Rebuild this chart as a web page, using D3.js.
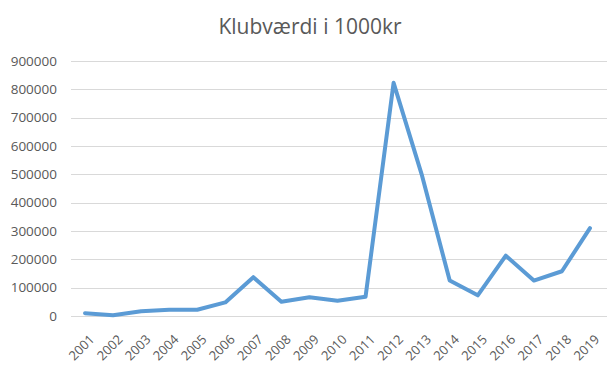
<!DOCTYPE html>
<html>
<head>
<meta charset="utf-8">
<script src="https://cdn.jsdelivr.net/npm/d3@7"></script>
<style>
	body { margin: 0; background: #fff; }
	text { font-family: "Open Sans", "Liberation Sans", sans-serif; fill: #595959; }
</style>
</head>
<body>
<div id="chart"></div>
<script>
// chart data
var years = ["2001", "2002", "2003", "2004", "2005", "2006", "2007", "2008", "2009", "2010",
	"2011", "2012", "2013", "2014", "2015", "2016", "2017", "2018", "2019"];
var values = [10000, 3000, 17000, 22000, 22000, 48000, 137000, 50000, 66000, 54000,
	68000, 823000, 500000, 125000, 73000, 213000, 125000, 158000, 310000];
var yTicks = [0, 100000, 200000, 300000, 400000, 500000, 600000, 700000, 800000, 900000];
var title = "Klubværdi i 1000kr";

function drawChart() {
	var width = 616;
	var height = 367;
	var margin = {top: 61, right: 12, bottom: 51, left: 71};

	var svg = d3.select("#chart").append("svg")
		.attr("width", width)
		.attr("height", height);

	var x = d3.scaleBand()
		.domain(years)
		.range([margin.left, width - margin.right]);

	var y = d3.scaleLinear()
		.domain([0, 900000])
		.range([height - margin.bottom, margin.top]);

	//gridlines
	svg.append("g")
		.selectAll("line")
		.data(yTicks)
		.enter().append("line")
		.attr("x1", margin.left)
		.attr("x2", width - margin.right + 3)
		.attr("y1", function(d) { return Math.round(y(d)) + 0.5; })
		.attr("y2", function(d) { return Math.round(y(d)) + 0.5; })
		.style("stroke", "#d9d9d9")
		.style("stroke-width", 1);

	//y axis labels
	var yAxis = d3.axisLeft(y).tickValues(yTicks).tickFormat(d3.format("d")).tickSize(0).tickPadding(14);
	var yg = svg.append("g")
		.attr("transform", "translate(" + margin.left + ",0)")
		.call(yAxis);
	yg.select(".domain").remove();
	yg.selectAll("text")
		.style("font-size", "13.5px")
		.style("font-family", "\"Open Sans\", sans-serif")
		.style("fill", "#595959");

	//x axis labels
	var xAxis = d3.axisBottom(x).tickSize(0);
	var xg = svg.append("g")
		.attr("transform", "translate(0," + (height - margin.bottom) + ")")
		.call(xAxis);
	xg.select(".domain").remove();
	xg.selectAll("text")
		.style("font-size", "13px")
		.style("font-family", "\"Open Sans\", sans-serif")
		.style("fill", "#595959")
		.style("text-anchor", "end")
		.attr("dy", "0.35em")
		.attr("transform", "translate(5,19) rotate(-45)");

	//the line
	var line = d3.line()
		.x(function(d, i) { return x(years[i]) + x.bandwidth() / 2; })
		.y(function(d) { return y(d); });

	svg.append("path")
		.datum(values)
		.attr("d", line)
		.style("fill", "none")
		.style("stroke", "#5b9bd5")
		.style("stroke-width", 4)
		.style("stroke-linejoin", "round")
		.style("stroke-linecap", "round");

	//title
	svg.append("text")
		.attr("x", 310)
		.attr("y", 34)
		.attr("text-anchor", "middle")
		.style("font-size", "21px")
		.text(title);
}

drawChart();
</script>
</body>
</html>
